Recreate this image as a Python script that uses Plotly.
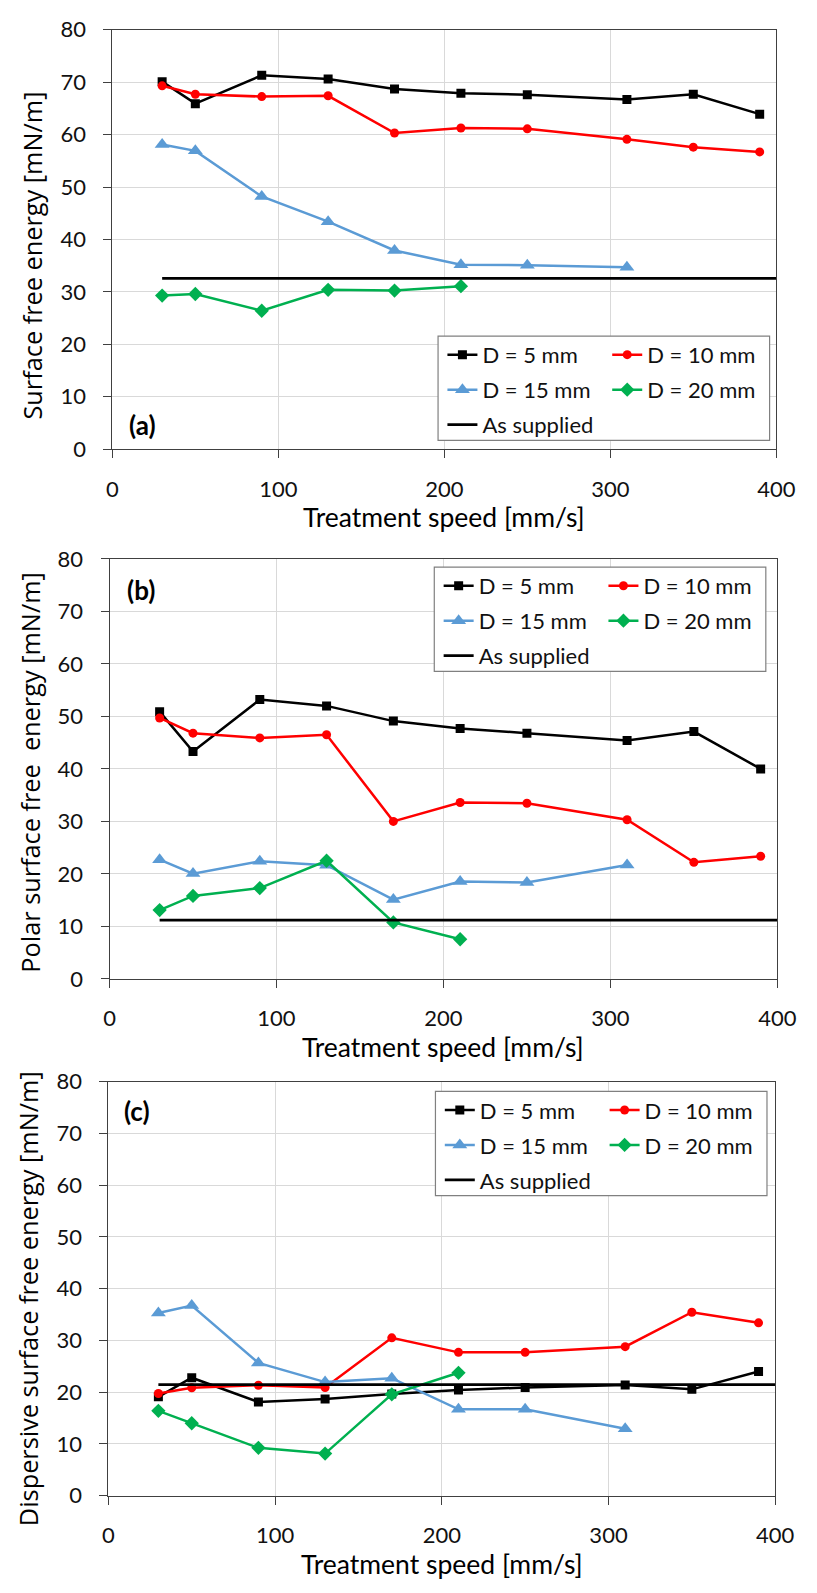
import plotly.graph_objects as go

W, H = 817, 1593

# Treatment speeds [mm/s]
speed = [30, 50, 90, 130, 170, 210, 250, 310, 350, 390]
speed_d15 = [30, 50, 90, 130, 170, 210, 250, 310]
speed_d20 = [30, 50, 90, 130, 170, 210]
supplied_x = [30, 400]

# (a) total surface free energy [mN/m]
total_d5 = [70.1, 65.9, 71.3, 70.6, 68.7, 67.9, 67.6, 66.7, 67.7, 63.9]
total_d10 = [69.3, 67.7, 67.25, 67.4, 60.3, 61.25, 61.1, 59.1, 57.6, 56.7]
total_d15 = [58.1, 56.9, 48.2, 43.4, 37.9, 35.2, 35.1, 34.7]
total_d20 = [29.3, 29.6, 26.4, 30.4, 30.25, 31.1]
total_supplied = 32.6

# (b) polar component [mN/m]
polar_d5 = [50.9, 43.3, 53.2, 52.0, 49.1, 47.7, 46.8, 45.4, 47.1, 40.0]
polar_d10 = [49.7, 46.8, 45.9, 46.5, 30.0, 33.6, 33.45, 30.3, 22.2, 23.35]
polar_d15 = [22.7, 20.05, 22.4, 21.65, 15.1, 18.55, 18.35, 21.7]
polar_d20 = [13.1, 15.8, 17.3, 22.5, 10.75, 7.55]
polar_supplied = 11.2

# (c) dispersive component [mN/m]
disp_d5 = [19.1, 22.8, 18.1, 18.7, 19.65, 20.45, 20.9, 21.4, 20.55, 24.0]
disp_d10 = [19.75, 20.85, 21.35, 20.9, 30.5, 27.7, 27.7, 28.8, 35.45, 33.4]
disp_d15 = [35.3, 36.75, 25.65, 21.95, 22.7, 16.7, 16.7, 12.95]
disp_d20 = [16.4, 14.0, 9.25, 8.15, 19.6, 23.75]
disp_supplied = 21.45

series_names = ["D = 5 mm", "D = 10 mm", "D = 15 mm", "D = 20 mm"]
series_colors = ["#000000", "#FF0000", "#5B9BD5", "#00B050"]
series_symbols = ["square", "circle", "triangle-up", "diamond"]
series_sizes = [9, 9, 13, 11]
series_speeds = [speed, speed, speed_d15, speed_d20]

panel_tags = ["(a)", "(b)", "(c)"]
y_titles = ["Surface free energy [mN/m]",
            "Polar surface free\u00a0 energy [mN/m]",
            "Dispersive surface free energy [mN/m]"]
x_title = "Treatment speed [mm/s]"

panels = [
    [total_d5, total_d10, total_d15, total_d20, total_supplied],
    [polar_d5, polar_d10, polar_d15, polar_d20, polar_supplied],
    [disp_d5, disp_d10, disp_d15, disp_d20, disp_supplied],
]

# Plot-area pixel boxes: (left, right, top, bottom)
areas = [(109.7, 794.6, 16.0, 442.7),
         (106.8, 795.7, 554.3, 981.5),
         (105.6, 793.5, 1086.0, 1507.3)]
# Legend frame top-left corners (pixels)
legend_boxes = [(445.7, 327.7), (441.8, 562.7), (443.0, 1096.0)]
LEG_W, LEG_H = 342, 106
# Panel tag centres and y-title centres (pixels)
tag_pos = [(141.0, 418.0), (139.7, 586.0), (135.0, 1116.0)]
ytitle_pos = [(27.0, 245.5), (25.0, 771.5), (23.5, 1306.5)]


def px(x):
    return x / W


def py(y):
    return 1 - y / H


fig = go.Figure()
layout = dict(
    width=W, height=H,
    margin=dict(l=0, r=0, t=0, b=0, pad=0),
    paper_bgcolor="white", plot_bgcolor="white",
    shapes=[], annotations=[],
)

axis_common = dict(
    showline=True, linecolor="#404040", linewidth=1, mirror=True,
    ticks="outside", ticklen=8, tickcolor="#404040", tickwidth=1,
    showgrid=True, gridcolor="#D9D9D9", gridwidth=1, zeroline=False,
    tickfont=dict(family="Lato", size=22, color="#111111"),
)

for p, (vals, area) in enumerate(zip(panels, areas)):
    k = p + 1
    xs = "" if k == 1 else str(k)
    left, right, top, bottom = area
    leg1 = "legend" if k == 1 else f"legend{2 * k - 1}"
    leg2 = f"legend{2 * k}"

    for i in range(4):
        fig.add_trace(go.Scatter(
            x=series_speeds[i], y=vals[i],
            mode="lines+markers", name=series_names[i],
            line=dict(color=series_colors[i], width=2.5),
            marker=dict(symbol=series_symbols[i], size=series_sizes[i],
                        color=series_colors[i]),
            xaxis="x" + xs, yaxis="y" + xs,
            legend=leg1 if i % 2 == 0 else leg2,
            legendgroup=f"{k}-{i}",
            hoverinfo="x+y",
        ))
    fig.add_trace(go.Scatter(
        x=supplied_x, y=[vals[4]] * len(supplied_x),
        mode="lines", name="As supplied",
        line=dict(color="#000000", width=2.75),
        xaxis="x" + xs, yaxis="y" + xs,
        legend=leg1, legendgroup=f"{k}-s",
    ))

    layout["xaxis" + xs] = dict(
        axis_common, domain=[px(left), px(right)], range=[0, 400],
        dtick=100, tick0=0, anchor="y" + xs, ticklabelstandoff=12,
    )
    layout["yaxis" + xs] = dict(
        axis_common, domain=[py(bottom), py(top)], range=[0, 80],
        dtick=10, tick0=0, anchor="x" + xs, ticklabelstandoff=13,
    )

    # legend frame
    bx, by = legend_boxes[p]
    layout["shapes"].append(dict(
        type="rect", xref="paper", yref="paper", layer="above",
        x0=px(bx), x1=px(bx + LEG_W), y0=py(by), y1=py(by + LEG_H),
        line=dict(color="#808080", width=1.2), fillcolor="white",
    ))
    legend_style = dict(
        orientation="v", xanchor="left", yanchor="top",
        bgcolor="rgba(0,0,0,0)", borderwidth=0, itemwidth=30,
        traceorder="grouped", tracegroupgap=3.4,
        font=dict(family="Lato", size=22, color="#111111"),
    )
    layout[leg1] = dict(legend_style, x=px(bx + 4.5), y=py(by + 18.5 - 20.8))
    layout[leg2] = dict(legend_style, x=px(bx + 174.5), y=py(by + 18.5 - 20.8))

    # panel tag
    tx, ty = tag_pos[p]
    layout["annotations"].append(dict(
        text=f"<b>{panel_tags[p]}</b>", xref="paper", yref="paper",
        x=px(tx), y=py(ty), xanchor="center", yanchor="middle",
        showarrow=False, font=dict(family="Lato", size=26, color="#000000"),
    ))
    # y-axis title
    yx, yy = ytitle_pos[p]
    layout["annotations"].append(dict(
        text=y_titles[p], xref="paper", yref="paper", textangle=-90,
        x=px(yx), y=py(yy), xanchor="center", yanchor="middle",
        showarrow=False, font=dict(family="Open Sans", size=25.3, color="#000000"),
    ))
    # x-axis title
    layout["annotations"].append(dict(
        text=x_title, xref="paper", yref="paper",
        x=px((left + right) / 2), y=py(bottom + 69.3),
        xanchor="center", yanchor="middle",
        showarrow=False, font=dict(family="Lato", size=26.5, color="#000000"),
    ))

fig.update_layout(**layout)
fig.write_html("out.html")
